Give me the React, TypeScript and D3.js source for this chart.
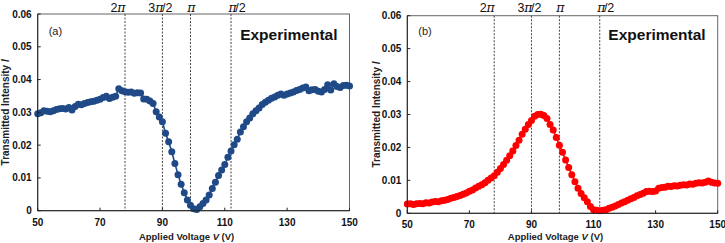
import React from "react";
import * as d3 from "d3";

const width = 725;
const height = 243;
const font = "'Liberation Sans', Arial, sans-serif";

// applied voltage, 1 V steps 50..150
const voltages = d3.range(50, 151);

const intensityA = [
  0.0296, 0.0299, 0.0305, 0.0303, 0.0302, 0.0305, 0.0309, 0.0311, 0.0312, 0.031,
  0.0315, 0.0307, 0.0318, 0.0325, 0.0323, 0.0327, 0.033, 0.0332, 0.0334, 0.0337,
  0.034, 0.0345, 0.0349, 0.0342, 0.0346, 0.0349, 0.0372, 0.0366, 0.0363, 0.0361,
  0.0362, 0.0358, 0.036, 0.0359, 0.0341, 0.034, 0.0335, 0.0327, 0.0302, 0.0286,
  0.0271, 0.0236, 0.021, 0.018, 0.0144, 0.011, 0.0081, 0.0055, 0.0033, 0.0017,
  0.0006, 0.0004, 0.0012, 0.0022, 0.0033, 0.0048, 0.0068, 0.0087, 0.0107, 0.0124,
  0.0141, 0.0163, 0.0182, 0.0201, 0.0218, 0.024, 0.0256, 0.0271, 0.0283, 0.0296,
  0.0305, 0.0313, 0.0324, 0.0331, 0.0337, 0.0343, 0.0347, 0.0352, 0.0356, 0.0352,
  0.0356, 0.0359, 0.0362, 0.0367, 0.037, 0.0374, 0.0377, 0.0366, 0.0369, 0.037,
  0.0364, 0.0362, 0.037, 0.0384, 0.0368, 0.0387, 0.0379, 0.0376, 0.0382, 0.0383,
  0.038,
];

const intensityB = [
  0.0028, 0.0029, 0.0027, 0.0029, 0.003, 0.0029, 0.0032, 0.0031, 0.0034, 0.0036,
  0.0035, 0.0038, 0.004, 0.0042, 0.0046, 0.0048, 0.0051, 0.0054, 0.0058, 0.0062,
  0.0067, 0.0071, 0.0077, 0.0082, 0.0087, 0.0093, 0.01, 0.0107, 0.0114, 0.0125,
  0.0136, 0.0148, 0.0161, 0.0175, 0.0189, 0.0206, 0.0222, 0.024, 0.0255, 0.027,
  0.0282, 0.0295, 0.03, 0.0301, 0.0297, 0.0288, 0.027, 0.0253, 0.023, 0.0207,
  0.0185, 0.0162, 0.0139, 0.0117, 0.0096, 0.0076, 0.006, 0.0047, 0.0035, 0.0021,
  0.0011, 0.0009, 0.0008, 0.0009, 0.0011, 0.0015, 0.0018, 0.0022, 0.0027, 0.0031,
  0.0035, 0.004, 0.0044, 0.0048, 0.0053, 0.0057, 0.0061, 0.0066, 0.0067, 0.0066,
  0.0068, 0.0076, 0.0078, 0.0079, 0.0082, 0.0081, 0.0084, 0.0083, 0.0085, 0.0087,
  0.0086, 0.0089, 0.0088, 0.0091, 0.0093, 0.0092, 0.0094, 0.0098, 0.0094, 0.0092,
  0.0091,
];

const xTicks = [50, 70, 90, 110, 130, 150];
const yTicks = [0, 0.01, 0.02, 0.03, 0.04, 0.05, 0.06];

// phase marker lines (V) and their labels
const phaseVolts = [78, 90, 99, 112];
const phaseLabels = [
  { pre: "2", post: "" },
  { pre: "3", post: "/2" },
  { pre: "", post: "" },
  { pre: "", post: "/2" },
];
const labelShift = [-7, -2, 1, 6];

type PanelProps = {
  values: number[];
  color: string;
  tag: string;
  box: { left: number; right: number; top: number; bottom: number };
  yTitleX: number;
};

function Panel({ values, color, tag, box, yTitleX }: PanelProps) {
  const x = d3.scaleLinear().domain([50, 150]).range([box.left, box.right]);
  const y = d3.scaleLinear().domain([0, 0.06]).range([box.bottom, box.top]);
  const pts = voltages.map((v, i) => [v, values[i]] as [number, number]);
  const line = d3
    .line<[number, number]>()
    .x(d => x(d[0]))
    .y(d => y(d[1]));

  return (
    <g fontFamily={font}>
      <rect
        x={box.left}
        y={box.top}
        width={box.right - box.left}
        height={box.bottom - box.top}
        fill="white"
        stroke="#666"
        strokeWidth={1}
      />
      {phaseVolts.map((v, i) => (
        <g key={v}>
          <line
            x1={x(v)}
            x2={x(v)}
            y1={box.top}
            y2={box.bottom}
            stroke="#444"
            strokeWidth={1}
            strokeDasharray="2,1.5"
          />
          <text
            x={x(v) + labelShift[i]}
            y={11.5}
            textAnchor="middle"
            fontSize={12.5}
            fill="#111"
          >
            {phaseLabels[i].pre}
            <tspan fontFamily="'DejaVu Serif', serif" fontStyle="italic">
              π
            </tspan>
            {phaseLabels[i].post && (
              <tspan dx={-1.5}>{phaseLabels[i].post}</tspan>
            )}
          </text>
        </g>
      ))}
      <path d={line(pts) || ""} fill="none" stroke={color} strokeWidth={1.6} />
      {pts.map(d => (
        <circle key={d[0]} cx={x(d[0])} cy={y(d[1])} r={3.5} fill={color} />
      ))}
      <line x1={box.left} x2={box.left} y1={box.top} y2={box.bottom} stroke="#222" />
      <line x1={box.left} x2={box.right} y1={box.bottom} y2={box.bottom} stroke="#222" />
      {xTicks.map(t => (
        <g key={t}>
          <line x1={x(t)} x2={x(t)} y1={box.bottom} y2={box.bottom - 3} stroke="#222" />
          <text
            x={x(t)}
            y={box.bottom + 15}
            textAnchor="middle"
            fontSize={10}
            fontWeight="bold"
            fill="#111"
          >
            {t}
          </text>
        </g>
      ))}
      {yTicks.map(t => (
        <g key={t}>
          <line x1={box.left} x2={box.left + 3} y1={y(t)} y2={y(t)} stroke="#222" />
          <text
            x={box.left - 6}
            y={y(t) + 3.5}
            textAnchor="end"
            fontSize={10}
            fontWeight="bold"
            fill="#111"
          >
            {t === 0 ? "0" : t.toFixed(2)}
          </text>
        </g>
      ))}
      <text
        x={(box.left + box.right) / 2 - 7}
        y={240}
        textAnchor="middle"
        fontSize={9.5}
        fontWeight="bold"
        fill="#222"
      >
        Applied Voltage <tspan fontStyle="italic">V</tspan> (V)
      </text>
      <text
        transform={`translate(${yTitleX},${(box.top + box.bottom) / 2}) rotate(-90)`}
        textAnchor="middle"
        fontSize={10}
        fontWeight="bold"
        fill="#222"
      >
        Transmitted Intensity <tspan fontStyle="italic">I</tspan>
      </text>
      <text x={box.left + 11} y={34.5} fontSize={11} fill="#222">
        {tag}
      </text>
      <text
        x={box.right - 12}
        y={39.5}
        textAnchor="end"
        fontSize={15.5}
        fontWeight="bold"
        fill="#111"
      >
        Experimental
      </text>
    </g>
  );
}

export default function App() {
  return (
    <svg
      width={width}
      height={height}
      style={{ position: "absolute", left: 0, top: 0, background: "white" }}
    >
      <Panel
        values={intensityA}
        color="#1f4a87"
        tag="(a)"
        box={{ left: 37.7, right: 349.5, top: 14, bottom: 210.7 }}
        yTitleX={8.5}
      />
      <Panel
        values={intensityB}
        color="#ff0000"
        tag="(b)"
        box={{ left: 407.3, right: 717.7, top: 15.7, bottom: 213.3 }}
        yTitleX={380}
      />
    </svg>
  );
}
